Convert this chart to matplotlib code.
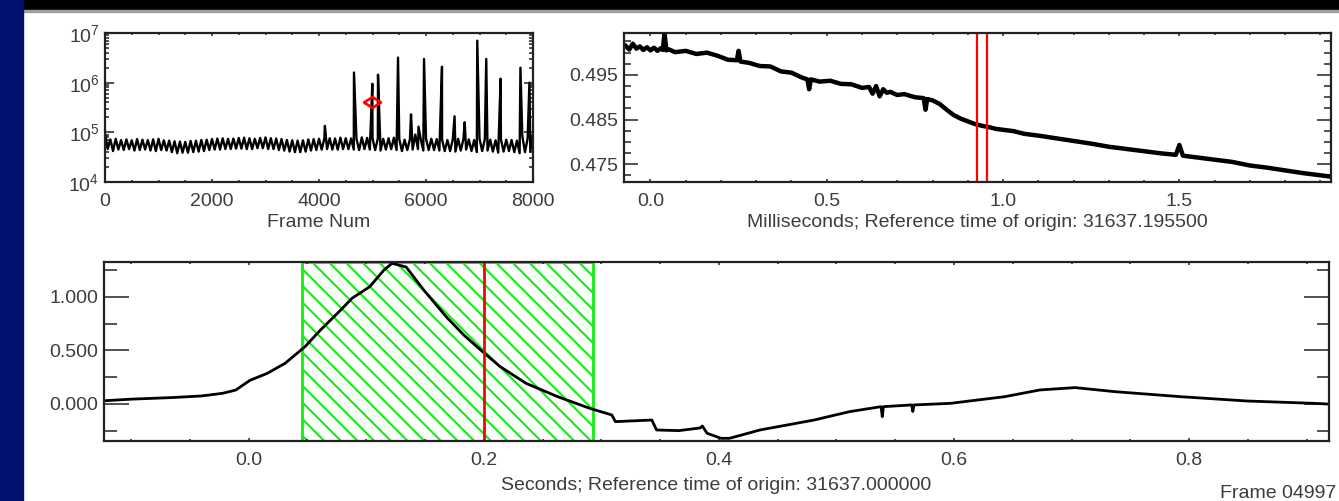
import matplotlib
matplotlib.use("Agg")
import numpy as np
import matplotlib.pyplot as plt
from matplotlib.patches import Rectangle
from matplotlib.path import Path
from matplotlib.ticker import MultipleLocator, LogLocator, NullFormatter, FormatStrFormatter

plt.rcParams["font.family"] = ["Liberation Sans", "DejaVu Sans"]
plt.rcParams["mathtext.fontset"] = "custom"
plt.rcParams["mathtext.rm"] = "Liberation Sans"
plt.rcParams["mathtext.it"] = "Liberation Sans"
plt.rcParams["hatch.linewidth"] = 1.5

# ---- top left: counts per frame (log) ----
base_frames = list(range(0, 8001, 50))
base_counts = [
    9.5, 4.6, 7.2, 4.2, 7.4, 4.5, 7.0, 4.4, 7.2, 4.6, 6.9, 4.3, 7.3, 4.4, 7.1, 4.5, 7.0, 4.3, 7.2, 4.2,
    7.4, 4.4, 6.9, 4.3, 6.8, 4.0, 6.6, 3.8, 6.5, 3.9, 6.4, 3.9, 6.7, 4.0, 6.8, 4.1, 7.0, 4.2, 7.1, 4.4,
    7.3, 4.5, 7.5, 4.5, 7.6, 4.6, 7.4, 4.6, 7.5, 4.7, 7.7, 4.7, 7.8, 4.6, 7.6, 4.6, 7.4, 4.8, 7.7, 4.8,
    7.9, 4.6, 7.6, 4.6, 7.5, 4.4, 7.3, 4.3, 7.0, 4.1, 6.9, 4.0, 6.8, 4.0, 6.9, 4.1, 7.2, 4.3, 7.3, 4.4,
    7.4, 4.5, 7.5, 4.6, 7.6, 4.5, 7.5, 4.5, 7.8, 4.6, 7.6, 4.6, 7.5, 4.5, 7.4, 4.4, 7.9, 4.6, 7.7, 4.5,
    7.6, 4.4, 7.5, 4.3, 7.4, 4.5, 7.6, 4.6, 7.8, 4.4, 7.3, 4.2, 7.1, 4.4, 7.3, 4.5, 9.0, 4.6, 7.4, 4.3,
    7.5, 4.4, 7.4, 4.4, 7.3, 4.3, 7.2, 4.2, 7.0, 4.2, 7.1, 4.1, 7.4, 4.3, 7.3, 4.5, 7.2, 4.2, 7.0, 4.0,
    7.5, 4.2, 7.3, 4.3, 7.1, 4.1, 6.9, 3.9, 7.3, 4.1, 7.1, 4.2, 7.0, 4.0, 6.8, 3.8, 8.5, 4.0, 7.5, 4.1,
    9.0]
base_counts = [v * 1e4 for v in base_counts]
spike_frames = [4110, 4654, 4997, 5103, 5477, 5720, 5860, 5963, 6299, 6534, 6723, 6958, 7126, 7395, 7765, 7933]
spike_counts = [1.35e5, 1.6e6, 9.5e5, 1.45e6, 3.2e6, 2.3e5, 1.3e5, 3.0e6, 2.1e6, 2.1e5, 1.6e5, 7.0e6,
                3.0e6, 1.2e6, 2.0e6, 1.0e6]
mark_frame = 4997
mark_count = 4.1e5

# ---- top right: zoom in milliseconds ----
ms_t = [-0.07, -0.06, -0.05, -0.04, -0.03, -0.02, -0.01, 0.0, 0.01, 0.02, 0.03, 0.035, 0.04, 0.045,
        0.05, 0.07, 0.1, 0.13, 0.16, 0.19, 0.22, 0.245, 0.25, 0.255, 0.28, 0.31, 0.34, 0.37, 0.4,
        0.43, 0.445, 0.45, 0.455, 0.48, 0.51, 0.54, 0.57, 0.6, 0.62, 0.63, 0.64, 0.65, 0.66, 0.67,
        0.68, 0.7, 0.72, 0.75, 0.775, 0.78, 0.785, 0.8, 0.82, 0.84, 0.86, 0.88, 0.9, 0.92, 0.94,
        0.96, 0.98, 1.0, 1.03, 1.06, 1.1, 1.15, 1.2, 1.25, 1.3, 1.35, 1.4, 1.45, 1.49, 1.5, 1.51,
        1.55, 1.6, 1.65, 1.7, 1.75, 1.8, 1.85, 1.9, 1.93]
ms_v = [0.5015, 0.5007, 0.5020, 0.5009, 0.5014, 0.5006, 0.5012, 0.5005, 0.5011, 0.5004, 0.5010,
        0.5006, 0.5044, 0.5005, 0.5008, 0.5001, 0.5004, 0.4997, 0.5000, 0.4993, 0.4984, 0.4983,
        0.5004, 0.4980, 0.4977, 0.4970, 0.4969, 0.4958, 0.4955, 0.4944, 0.4940, 0.4918, 0.4940,
        0.4935, 0.4937, 0.4930, 0.4929, 0.4921, 0.4923, 0.4908, 0.4925, 0.4902, 0.4918, 0.4910,
        0.4912, 0.4905, 0.4907, 0.4900, 0.4898, 0.4872, 0.4896, 0.4893, 0.4885, 0.4872, 0.4860,
        0.4852, 0.4846, 0.4840, 0.4836, 0.4833, 0.4829, 0.4827, 0.4824, 0.4818, 0.4814, 0.4808,
        0.4802, 0.4796, 0.4789, 0.4784, 0.4779, 0.4774, 0.4771, 0.4793, 0.4769, 0.4765, 0.4760,
        0.4755, 0.4747, 0.4742, 0.4736, 0.4730, 0.4725, 0.4722]
ms_marks = [0.925, 0.955]

# ---- bottom: seconds ----
sec_t = [-0.123, -0.10, -0.065, -0.04, -0.022, -0.011, 0.001, 0.016, 0.031, 0.048, 0.061, 0.077,
         0.088, 0.103, 0.115, 0.122, 0.134, 0.149, 0.168, 0.183, 0.199, 0.214, 0.236, 0.263, 0.290,
         0.309, 0.312, 0.343, 0.347, 0.366, 0.384, 0.386, 0.390, 0.402, 0.409, 0.435, 0.481, 0.511,
         0.538, 0.539, 0.540, 0.564, 0.565, 0.566, 0.597, 0.643, 0.673, 0.703, 0.737, 0.793, 0.849,
         0.906, 0.923]
sec_v = [0.03, 0.045, 0.06, 0.075, 0.10, 0.13, 0.22, 0.287, 0.38, 0.536, 0.69, 0.863, 0.988, 1.096,
         1.25, 1.315, 1.28, 1.065, 0.816, 0.645, 0.489, 0.349, 0.193, 0.068, -0.04, -0.103, -0.165,
         -0.15, -0.243, -0.249, -0.224, -0.206, -0.274, -0.321, -0.321, -0.243, -0.15, -0.072,
         -0.025, -0.118, -0.025, -0.009, -0.07, -0.009, 0.006, 0.068, 0.131, 0.153, 0.115, 0.068,
         0.028, 0.006, -0.003]
sec_mark = 0.2
sec_window = [0.045, 0.293]

W, H = 1339, 501
TXT = "#3c3c3c"
FS = 14


def px_axes(fig, left, top, right, bottom):
    return fig.add_axes([left / W, 1 - bottom / H, (right - left) / W, (bottom - top) / H])


def idl_frame(ax, xlen, ylen):
    for s in ax.spines.values():
        s.set_linewidth(1.6)
        s.set_color("#222222")
    ax.tick_params(which="both", direction="in", top=True, right=True, colors="#222222",
                   labelcolor=TXT, labelsize=FS, width=1.1)
    ax.tick_params(axis="x", which="major", length=xlen, pad=8)
    ax.tick_params(axis="x", which="minor", length=xlen / 2)
    ax.tick_params(axis="y", which="major", length=ylen, pad=4)
    ax.tick_params(axis="y", which="minor", length=ylen / 2)


fig = plt.figure(figsize=(W / 100, H / 100), dpi=100)
fig.patch.set_facecolor("white")
fig.patches.append(Rectangle((0, 1 - 10 / H), 1, 10 / H, transform=fig.transFigure, color="black", zorder=-5))
fig.patches.append(Rectangle((0, 1 - 12 / H), 1, 2 / H, transform=fig.transFigure, color="#a0a0a0", zorder=-5))
fig.patches.append(Rectangle((0, 0), 23 / W, 1, transform=fig.transFigure, color="#00106f", zorder=-4))

# top left
ax1 = px_axes(fig, 105, 33, 533, 182)
fx = base_frames + spike_frames
fy = base_counts + spike_counts
order = np.argsort(fx, kind="stable")
ax1.plot(np.array(fx)[order], np.array(fy)[order], color="black", lw=1.7)
diamond = Path([(-1, 0), (0, 0.65), (1, 0), (0, -0.65), (-1, 0)],
               [Path.MOVETO, Path.LINETO, Path.LINETO, Path.LINETO, Path.CLOSEPOLY])
ax1.plot([mark_frame], [mark_count], marker=diamond, ms=12, mfc="none", mec="red", mew=2)
ax1.set_yscale("log")
ax1.set_xlim(0, 8000)
ax1.set_ylim(1e4, 1e7)
ax1.xaxis.set_major_locator(MultipleLocator(2000))
ax1.xaxis.set_minor_locator(MultipleLocator(500))
ax1.yaxis.set_major_locator(LogLocator(base=10, numticks=10))
ax1.yaxis.set_minor_locator(LogLocator(base=10, subs=np.arange(2, 10), numticks=10))
ax1.yaxis.set_minor_formatter(NullFormatter())
idl_frame(ax1, 2.2, 6.2)
ax1.set_xlabel("Frame Num", fontsize=FS, color=TXT, labelpad=3)

# top right
ax2 = px_axes(fig, 624, 33, 1331, 182)
ax2.plot(ms_t, ms_v, color="black", lw=3.2)
for m in ms_marks:
    ax2.axvline(m, color="red", lw=1.6)
ax2.set_xlim(-0.075, 1.93)
ax2.set_ylim(0.4710, 0.5044)
ax2.xaxis.set_major_locator(MultipleLocator(0.5))
ax2.xaxis.set_minor_locator(MultipleLocator(0.1))
ax2.xaxis.set_major_formatter(FormatStrFormatter("%.1f"))
ax2.set_yticks([0.475, 0.485, 0.495])
ax2.yaxis.set_minor_locator(MultipleLocator(0.0025))
ax2.yaxis.set_major_formatter(FormatStrFormatter("%.3f"))
idl_frame(ax2, 2.2, 10)
ax2.set_xlabel("Milliseconds; Reference time of origin: 31637.195500", fontsize=FS, color=TXT, labelpad=3)

# bottom
ax3 = px_axes(fig, 104, 262, 1329, 441)
ax3.axvspan(sec_window[0], sec_window[1], facecolor="none", edgecolor="#11ee11", lw=2, hatch="\\\\")
ax3.plot(sec_t, sec_v, color="black", lw=2)
ax3.axvline(sec_mark, color="red", lw=2)
ax3.set_xlim(-0.123, 0.919)
ax3.set_ylim(-0.346, 1.327)
ax3.xaxis.set_major_locator(MultipleLocator(0.2))
ax3.xaxis.set_minor_locator(MultipleLocator(0.05))
ax3.xaxis.set_major_formatter(FormatStrFormatter("%.1f"))
ax3.yaxis.set_major_locator(MultipleLocator(0.5))
ax3.yaxis.set_minor_locator(MultipleLocator(0.25))
ax3.yaxis.set_major_formatter(FormatStrFormatter("%.3f"))
idl_frame(ax3, 2.4, 18)
ax3.set_xlabel("Seconds; Reference time of origin: 31637.000000", fontsize=FS, color=TXT, labelpad=6)

fig.text(1220 / W, 1 - 493 / H, "Frame 04997", fontsize=FS, color=TXT, ha="left", va="center")

fig.savefig("out.png", dpi=100)
